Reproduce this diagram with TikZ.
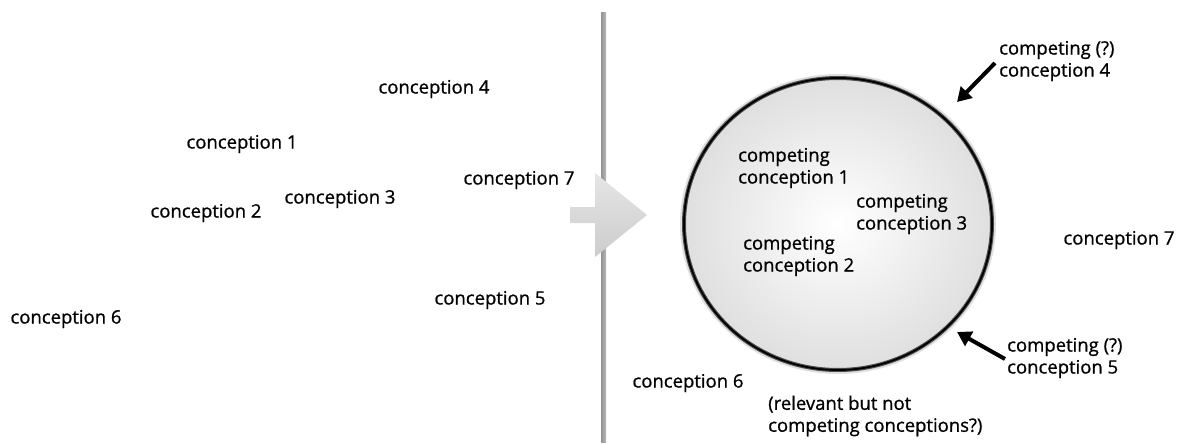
\documentclass[tikz,border=0pt]{standalone}
\usepackage{fontspec}
\setmainfont{Open Sans}
\newfontfamily\lblfont{Open Sans}[FakeBold=0.9]
\usepackage{tikz}
\usetikzlibrary{positioning,shapes,arrows.meta}

\begin{document}
\begin{tikzpicture}[x=1pt, y=-1pt,
    lbl/.style={font=\lblfont\fontsize{18.5}{22}\selectfont, inner sep=0pt, align=left},
    push/.style={line width=4pt, -{Triangle[length=14pt,width=16pt]}}]
  \useasboundingbox (0,0) rectangle (1184,444);
  % before: scattered conceptions
  \draw (434,89) node [lbl] (a4) {conception 4}
        (242,144) node [lbl] (a1) {conception 1}
        (340,199) node [lbl] (a3) {conception 3}
        (206,213) node [lbl] (a2) {conception 2}
        (519,180) node [lbl] (a7) {conception 7}
        (490,300) node [lbl] (a5) {conception 5}
        (66,319) node [lbl] (a6) {conception 6};
  % divider and transition arrow
  \shade [left color=gray!85, right color=gray!55] (601,13) rectangle (606,442);
  \shade [top color=gray!20, bottom color=gray!40]
        (570,207) -- (595,207) -- (595,173) -- (647,215) -- (595,257)
        -- (595,223) -- (570,223) -- cycle;
  % after: the set of competing conceptions
  \draw [line width=8pt, gray!25] (838,224) ellipse [x radius=154pt, y radius=146pt];
  \shade [inner color=white, outer color=gray!25] (838,224) ellipse [x radius=154pt, y radius=146pt];
  \draw [line width=4pt, gray!60!black] (838,224) ellipse [x radius=154pt, y radius=146pt];
  \draw [line width=1.8pt, black] (838,224) ellipse [x radius=154pt, y radius=146pt];
  \coordinate (t4) at (957,102);
  \coordinate (t5) at (957,332);
  \draw (738,168) node [lbl, anchor=west] (b1) {competing\\conception 1}
        (856,214) node [lbl, anchor=west] (b3) {competing\\conception 3}
        (743,256) node [lbl, anchor=west] (b2) {competing\\conception 2}
        (1119,240) node [lbl] (b7) {conception 7}
        (999,61) node [lbl, anchor=west] (q4) {competing (?)\\conception 4}
        (1007,358) node [lbl, anchor=west] (q5) {competing (?)\\conception 5}
        (688,383) node [lbl] (b6) {conception 6}
        (768,416) node [lbl, anchor=west] (nc) {(relevant but not\\competing conceptions?)};
  \draw [push] ([shift={(-4pt,-2pt)}]q4.west) -- (t4);
  \draw [push] ([shift={(-2pt,-1pt)}]q5.west) -- (t5);
\end{tikzpicture}
\end{document}
